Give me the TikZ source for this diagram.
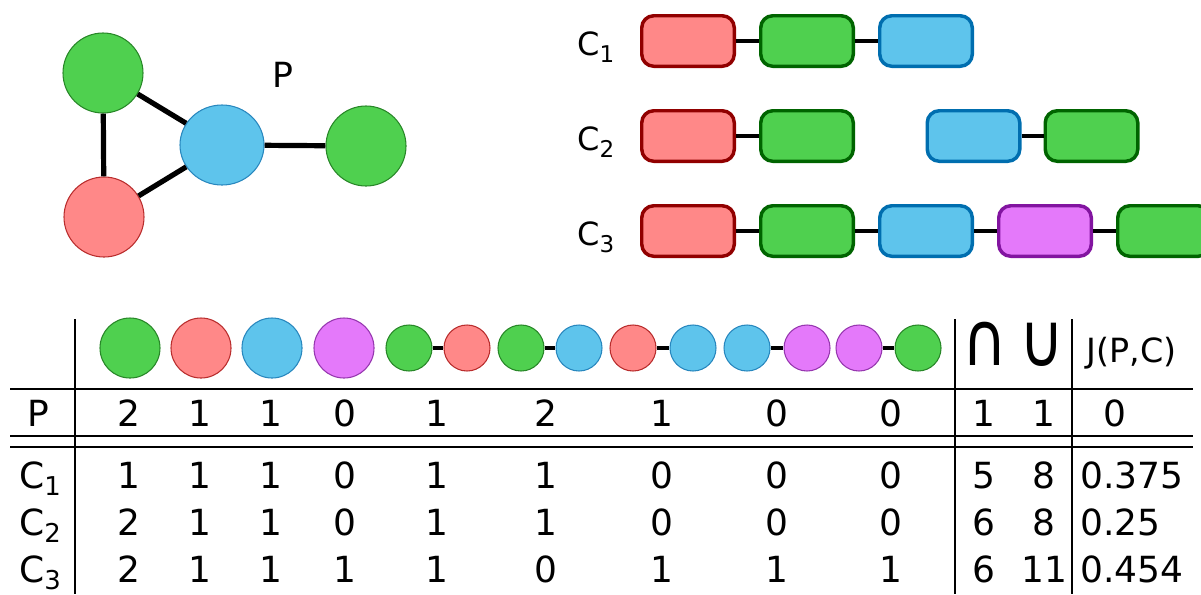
\documentclass[tikz,border=0pt]{standalone}
\usepackage{fontspec}
\usepackage{graphicx}
\setmainfont{DejaVu Sans}
\usetikzlibrary{shapes.geometric}
\definecolor{gF}{RGB}{79,208,79}
\definecolor{gC}{RGB}{40,135,40}
\definecolor{gB}{RGB}{0,100,0}
\definecolor{rF}{RGB}{255,136,136}
\definecolor{rC}{RGB}{185,45,45}
\definecolor{rB}{RGB}{145,0,0}
\definecolor{bF}{RGB}{94,196,236}
\definecolor{bC}{RGB}{40,135,190}
\definecolor{bB}{RGB}{0,110,175}
\definecolor{mF}{RGB}{228,121,250}
\definecolor{mC}{RGB}{150,55,175}
\definecolor{mB}{RGB}{130,20,160}
\newcommand\lsub[1]{\raisebox{-0.22em}{\scalebox{0.72}{#1}}}
\newcommand\tallsym[1]{\scalebox{1}[1.22]{#1}}
\tikzset{
  nG/.style={fill=gF,draw=gC}, nR/.style={fill=rF,draw=rC},
  nB/.style={fill=bF,draw=bC}, nM/.style={fill=mF,draw=mC},
  bG/.style={fill=gF,draw=gB}, bR/.style={fill=rF,draw=rB},
  bB/.style={fill=bF,draw=bB}, bM/.style={fill=mF,draw=mB},
  gnode/.style={circle,inner sep=0pt,line width=0.8pt,minimum size=60pt},
  bigball/.style={circle,inner sep=0pt,line width=0.8pt,minimum size=45pt},
  smallball/.style={circle,inner sep=0pt,line width=0.8pt,minimum size=34.5pt},
  chainbox/.style={rectangle,rounded corners=9pt,line width=2.6pt,minimum width=69.4pt,minimum height=37.9pt,inner sep=0pt},
  link/.style={line width=3pt},
  gedge/.style={line width=3.9pt},
  rule/.style={line width=2.2pt},
  num/.style={font=\fontsize{27}{27}\selectfont,anchor=base,inner sep=0pt},
  lab/.style={font=\fontsize{27}{27}\selectfont,anchor=base west,inner sep=0pt},
}
\begin{document}
\begin{tikzpicture}[x=0.75pt,y=-0.75pt]
\clip (0,0) rectangle (1201,594);
% ---- graph P
\node[gnode,nG] (g1) at (103,73) {};
\node[gnode,nR] (g2) at (104,217) {};
\node[ellipse,inner sep=0pt,line width=0.8pt,minimum width=63pt,minimum height=60pt,nB] (g3) at (222,145) {};
\node[gnode,nG] (g4) at (366,146) {};
\draw[gedge] (g1) -- (g3);
\draw[gedge] (g2) -- (g3);
\draw[gedge] (g1) -- (g2);
\draw[gedge] (g3) -- (g4);
\node[num,font=\fontsize{26}{26}\selectfont] (plab) at (283,87) {P};
% ---- chains
\node[lab,font=\fontsize{24}{24}\selectfont] (c1lab) at (577,55) {C\lsub{1}};
\node[lab,font=\fontsize{24}{24}\selectfont] (c2lab) at (577,150) {C\lsub{2}};
\node[lab,font=\fontsize{24}{24}\selectfont] (c3lab) at (577,245) {C\lsub{3}};
% C1
\node[chainbox,bR] (a1) at (688,41) {};
\node[chainbox,bG] (a2) at (807,41) {};
\node[chainbox,bB] (a3) at (926,41) {};
\draw[link] (a1.east) -- (a2.west);
\draw[link] (a2.east) -- (a3.west);
% C2
\node[chainbox,bR] (b1) at (688,136) {};
\node[chainbox,bG] (b2) at (807,136) {};
\node[chainbox,bB] (b3) at (973.5,136) {};
\node[chainbox,bG] (b4) at (1091.5,136) {};
\draw[link] (b1.east) -- (b2.west);
\draw[link] (b3.east) -- (b4.west);
% C3
\node[chainbox,bR] (d1) at (688,231) {};
\node[chainbox,bG] (d2) at (807,231) {};
\node[chainbox,bB] (d3) at (926,231) {};
\node[chainbox,bM] (d4) at (1045,231) {};
\node[chainbox,bG] (d5) at (1164,231) {};
\draw[link] (d1.east) -- (d2.west);
\draw[link] (d2.east) -- (d3.west);
\draw[link] (d3.east) -- (d4.west);
\draw[link] (d4.east) -- (d5.west);
% ---- table rules
\coordinate (h1l) at (10,389); \coordinate (h1r) at (1193,389);
\coordinate (h2l) at (10,436); \coordinate (h2r) at (1193,436);
\coordinate (h3l) at (10,447); \coordinate (h3r) at (1193,447);
\coordinate (v1t) at (75,319); \coordinate (v1b) at (75,594);
\coordinate (v2t) at (955,319); \coordinate (v2b) at (955,594);
\coordinate (v3t) at (1072,319); \coordinate (v3b) at (1072,594);
\draw[rule] (h1l) -- (h1r);
\draw[rule] (h2l) -- (h2r);
\draw[rule] (h3l) -- (h3r);
\draw[rule] (v1t) -- (v1b);
\draw[rule] (v2t) -- (v2b);
\draw[rule] (v3t) -- (v3b);
% ---- header
\node[bigball,nG] (t1) at (130,348) {};
\node[bigball,nR] (t2) at (201,348) {};
\node[bigball,nB] (t3) at (272,348) {};
\node[bigball,nM] (t4) at (344,348) {};
\node[smallball,nG] (s1) at (409,348) {};
\node[smallball,nR] (s2) at (467,348) {};
\node[smallball,nG] (s3) at (521,348) {};
\node[smallball,nB] (s4) at (579,348) {};
\node[smallball,nR] (s5) at (633,348) {};
\node[smallball,nB] (s6) at (693,348) {};
\node[smallball,nB] (s7) at (747,348) {};
\node[smallball,nM] (s8) at (807,348) {};
\node[smallball,nM] (s9) at (859,348) {};
\node[smallball,nG] (s10) at (918,348) {};
\draw[link] (s1) -- (s2);
\draw[link] (s3) -- (s4);
\draw[link] (s5) -- (s6);
\draw[link] (s7) -- (s8);
\draw[link] (s9) -- (s10);
\node[num,font=\fontsize{46}{46}\selectfont] (hcap) at (984.5,365) {\tallsym{∩}};
\node[num,font=\fontsize{46}{46}\selectfont] (hcup) at (1042,366) {\tallsym{∪}};
\node[num,font=\fontsize{25}{25}\selectfont] (hjac) at (1131.5,362) {J(P,C)};
% ---- row labels
\node[num] (rP) at (38,426) {P};
\node[lab] (r1) at (19,488) {C\lsub{1}};
\node[lab] (r2) at (19,535) {C\lsub{2}};
\node[lab] (r3) at (19,582) {C\lsub{3}};
% ---- values
\def\colx{{129,200,271,345,437,546,662,777,891,984,1044}}
\foreach \r/\yy/\vals in {0/426/{2,1,1,0,1,2,1,0,0,1,1},1/488/{1,1,1,0,1,1,0,0,0,5,8},2/535/{2,1,1,0,1,1,0,0,0,6,8},3/582/{2,1,1,1,1,0,1,1,1,6,11}}{
  \foreach \v [count=\c] in \vals {
    \pgfmathsetmacro\xx{\colx[\c-1]}
    \node[num] (v-\r-\c) at (\xx,\yy) {\v};
  }
}
\node[num] (j0) at (1115,426) {0};
\node[lab] (j1) at (1080,488) {0.375};
\node[lab] (j2) at (1080,535) {0.25};
\node[lab] (j3) at (1080,582) {0.454};
\end{tikzpicture}
\end{document}
